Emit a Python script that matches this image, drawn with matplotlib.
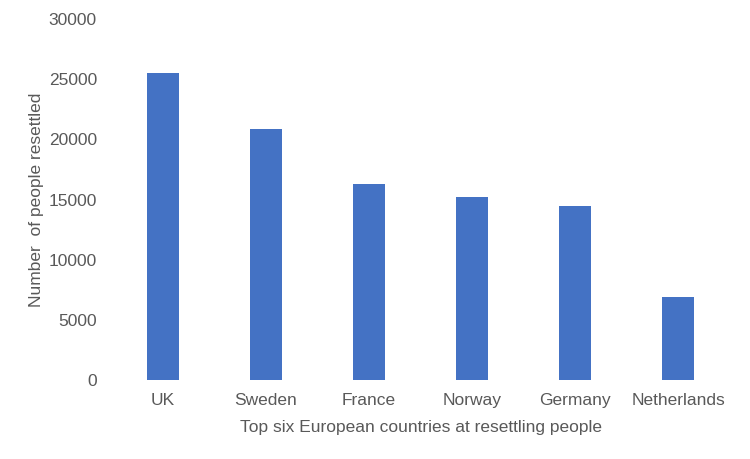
import matplotlib.pyplot as plt

paises = ['UK', 'Sweden', 'France', 'Norway', 'Germany', 'Netherlands']
reasentados = [25500, 20900, 16300, 15200, 14500, 6900]

plt.rcParams['font.family'] = ['Liberation Sans', 'DejaVu Sans']
gris = '#595959'

fig = plt.figure(figsize=(7.5, 4.59), dpi=100)
ax = fig.add_axes([0.1487, 0.1721, 0.824, 0.7865])

ax.bar(range(len(paises)), reasentados, width=0.31, color='#4472C4')
ax.set_xlim(-0.5, len(paises) - 0.5)
ax.set_ylim(0, 30000)
ax.set_yticks(range(0, 30001, 5000))
ax.set_xticks(range(len(paises)))
ax.set_xticklabels(paises)

for s in ax.spines.values():
    s.set_visible(False)
ax.tick_params(axis='both', length=0, labelsize=12.5, labelcolor=gris)
ax.tick_params(axis='y', pad=10.5)
ax.tick_params(axis='x', pad=9)

ax.set_xlabel('Top six European countries at resettling people', fontsize=12.5, color=gris, labelpad=9)
ax.set_ylabel('Number  of people resettled', fontsize=12.5, color=gris, labelpad=3)

fig.savefig('out.png', dpi=100)
